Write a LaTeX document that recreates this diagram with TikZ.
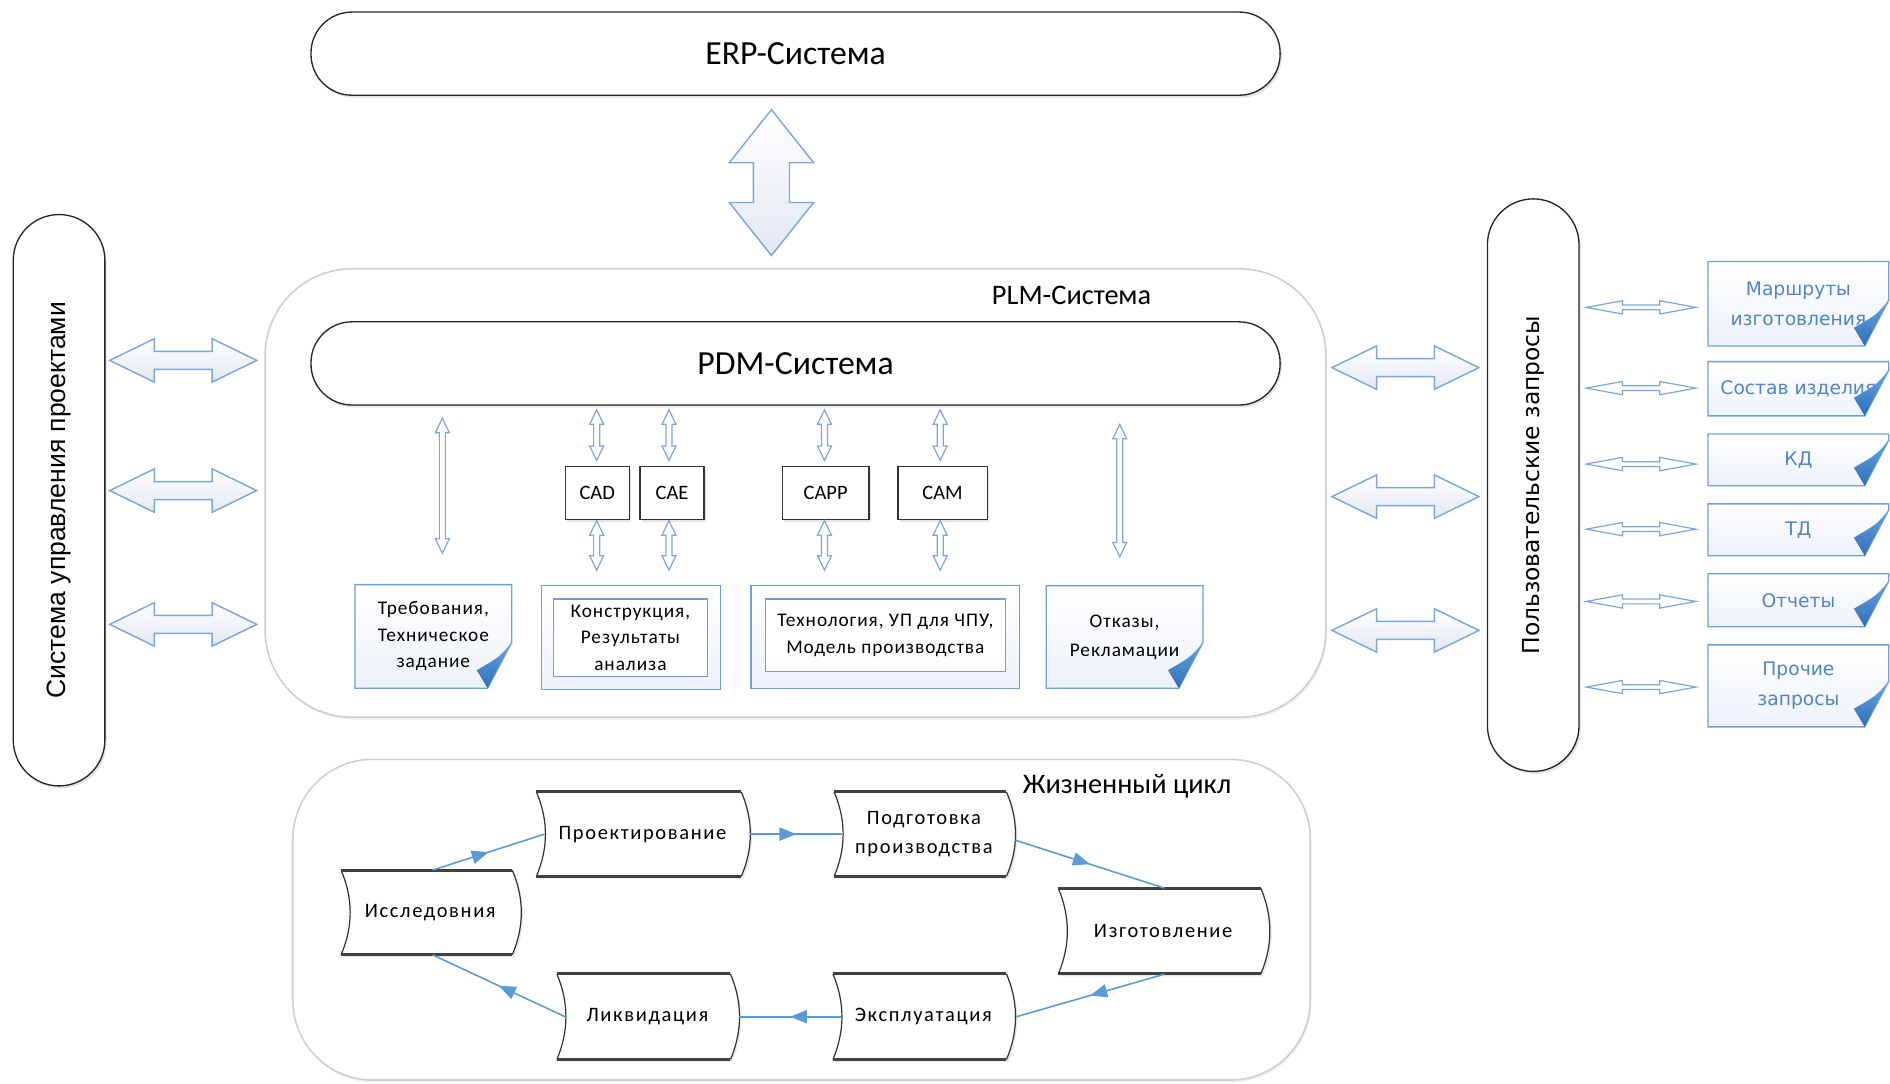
\documentclass[tikz,border=0pt]{standalone}
\usepackage{fontspec}
\setmainfont{Carlito}
\newfontfamily\cspA[LetterSpace=5]{Carlito}
\newfontfamily\cspB[LetterSpace=8]{Carlito}
\newfontfamily\dvs{DejaVu Sans}
\newfontfamily\lbs{Liberation Sans}
\usetikzlibrary{shadows,decorations.markings,arrows.meta,calc}

\definecolor{abl}{HTML}{7EA6D8}
\definecolor{afill}{HTML}{E2E8F3}
\definecolor{lbl}{HTML}{5B9BD5}
\definecolor{dbl}{HTML}{6E9FD8}
\definecolor{dfill}{HTML}{EDF2FA}
\definecolor{curlA}{HTML}{2E6DB8}
\definecolor{curlB}{HTML}{6AA6E4}
\definecolor{dtx}{HTML}{5584C2}
\definecolor{cgr}{HTML}{CFCFCF}

\newcommand\fsz[2]{\fontsize{#1}{#2}\selectfont}

% horizontal double block arrow: style, x1, x2, y, head half, shaft half, head length
\newcommand\dblH[7]{\path[#1] (#2,#4) -- ({#2+#7},{#4-#5}) -- ({#2+#7},{#4-#6}) -- ({#3-#7},{#4-#6}) -- ({#3-#7},{#4-#5}) -- (#3,#4) -- ({#3-#7},{#4+#5}) -- ({#3-#7},{#4+#6}) -- ({#2+#7},{#4+#6}) -- ({#2+#7},{#4+#5}) -- cycle;}
% vertical double block arrow: style, y1, y2, x, head half, shaft half, head length
\newcommand\dblV[7]{\path[#1] (#4,#2) -- ({#4+#5},{#2+#7}) -- ({#4+#6},{#2+#7}) -- ({#4+#6},{#3-#7}) -- ({#4+#5},{#3-#7}) -- (#4,#3) -- ({#4-#5},{#3-#7}) -- ({#4-#6},{#3-#7}) -- ({#4-#6},{#2+#7}) -- ({#4-#5},{#2+#7}) -- cycle;}

% document with page curl: name, x1, y1, x2, y2, node options, text
\newcommand\curldoc[7]{%
  \path[docshape] (#2,#3) -- (#4,#3) -- (#4,{#5-38}) -- ({#4-20},#5) -- (#2,#5) -- cycle;
  \node[docnode,minimum width={#4-#2},minimum height={#5-#3},#6] (#1) at ({(#2+#4)/2},{(#3+#5)/2}) {#7};
  \path[curlfill] (#4,{#5-38}) .. controls ({#4-10},{#5-26}) .. ({#4-29},{#5-15}) -- ({#4-20},#5) .. controls ({#4-12},{#5-16}) .. (#4,{#5-38}) -- cycle;
}

% life-cycle step: name, x1, y1, x2, y2, text
\newcommand\lcnode[6]{%
  \fill[white,drop shadow={opacity=0.18,shadow xshift=1.5pt,shadow yshift=-2pt}] (#2,#3) -- (#4,#3) .. controls ({#4+10},{#3+(#5-#3)/3}) and ({#4+10},{#5-(#5-#3)/3}) .. (#4,#5) -- (#2,#5) .. controls ({#2+10},{#5-(#5-#3)/3}) and ({#2+10},{#3+(#5-#3)/3}) .. (#2,#3) -- cycle;
  \draw[black!80,line width=1pt] (#4,#3) .. controls ({#4+10},{#3+(#5-#3)/3}) and ({#4+10},{#5-(#5-#3)/3}) .. (#4,#5);
  \draw[black!80,line width=1pt] (#2,#5) .. controls ({#2+10},{#5-(#5-#3)/3}) and ({#2+10},{#3+(#5-#3)/3}) .. (#2,#3);
  \draw[black!75,line width=2.4pt] (#2,#3) -- (#4,#3) (#2,#5) -- (#4,#5);
  \node[lctext,minimum width={#4-#2},minimum height={#5-#3}] (#1) at ({(#2+#4)/2+3},{(#3+#5)/2}) {#6};
}

\begin{document}
\begin{tikzpicture}[x=1pt,y=-1pt,
  shadowed/.style={drop shadow={opacity=0.22,shadow xshift=1.5pt,shadow yshift=-2pt}},
  stadium/.style={draw=black!85,line width=1.1pt,fill=white,inner sep=0pt,shadowed},
  container/.style={draw=cgr,line width=1.3pt,fill=white,inner sep=0pt,drop shadow={opacity=0.12,shadow xshift=1pt,shadow yshift=-2pt}},
  blk/.style={draw=abl,line width=1.2pt,top color=white,bottom color=afill},
  thinarr/.style={draw=abl,line width=1pt,fill=white},
  sysbox/.style={draw=black!80,line width=1.1pt,fill=white,inner sep=0pt,shadowed,font=\fsz{17}{20}},
  docshape/.style={draw=dbl,line width=1.1pt,top color=white,bottom color=dfill},
  docnode/.style={inner sep=0pt,align=center},
  curlfill/.style={top color=curlB,bottom color=curlA,draw=none},
  innerbox/.style={draw=dbl,line width=1.1pt,fill=white,inner sep=0pt,align=center},
  outerbox/.style={draw=dbl,line width=1.1pt,top color=white,bottom color=dfill,inner sep=0pt},
  lcarrow/.style={draw=lbl,line width=1.3pt,postaction={decorate},decoration={markings,mark=at position 0.5 with {\arrow{Triangle[length=14pt,width=11pt,color=lbl]}}}},
  lctext/.style={inner sep=0pt,font=\cspB\fsz{17}{24},align=center},
  plmtext/.style={text=black,font=\cspA\fsz{16}{22}},
  rdtext/.style={text=dtx,font=\dvs\fsz{15.5}{25}},
]
\useasboundingbox (0,0) rectangle (1568,899);

% containers
\node[container,minimum width=880,minimum height=372,rounded corners=72] (plm) at (660,409) {};
\node[font=\fsz{23.5}{28}] (plmlbl) at (889,245) {PLM-Система};
\node[container,minimum width=844,minimum height=266,rounded corners=66] (lc) at (665,763) {};
\node[font=\fsz{23.5}{28}] (lclbl) at (935,652) {Жизненный цикл};

% ERP, PDM
\node[stadium,minimum width=804,minimum height=69,rounded corners=34,font=\fsz{28}{32}] (erp) at (660,44.5) {ERP-Система};
\node[stadium,minimum width=804,minimum height=69,rounded corners=34,font=\fsz{28}{32}] (pdm) at (660,301.5) {PDM-Система};

% side systems
\node[stadium,minimum width=76,minimum height=474,rounded corners=38] (spm) at (49,415) {};
\node[rotate=90,font=\lbs\fsz{22}{25}] (spmt) at (spm.center) {Система управления проектами};
\node[stadium,minimum width=76,minimum height=475,rounded corners=38] (usr) at (1272,402.5) {};
\node[rotate=90,font=\dvs\fsz{19.4}{23}] (usrt) at (usr.center) {Пользовательские запросы};

% block arrows
\dblV{blk}{91}{212}{640}{35}{15}{44}
\dblH{blk}{91}{213}{299}{18}{7.5}{37}
\dblH{blk}{91}{213}{407}{18}{7.5}{37}
\dblH{blk}{91}{213}{518}{18}{7.5}{37}
\dblH{blk}{1105}{1227}{305}{18}{7.5}{37}
\dblH{blk}{1105}{1227}{412}{18}{7.5}{37}
\dblH{blk}{1105}{1227}{523}{18}{7.5}{37}

% CAx boxes
\node[sysbox,minimum width=53,minimum height=44] (cad) at (495.5,409) {CAD};
\node[sysbox,minimum width=53,minimum height=44] (cae) at (557.5,409) {CAE};
\node[sysbox,minimum width=72,minimum height=44] (capp) at (685,409) {CAPP};
\node[sysbox,minimum width=74,minimum height=44] (cam) at (782,409) {CAM};

% thin vertical arrows
\dblV{thinarr}{347}{459}{367}{5.8}{2.5}{12}
\dblV{thinarr}{352}{462}{929}{5.8}{2.5}{12}
\dblV{thinarr}{340}{382}{495}{5.8}{2.5}{12}
\dblV{thinarr}{432}{473}{495}{5.8}{2.5}{12}
\dblV{thinarr}{340}{382}{555}{5.8}{2.5}{12}
\dblV{thinarr}{432}{473}{555}{5.8}{2.5}{12}
\dblV{thinarr}{340}{382}{684}{5.8}{2.5}{12}
\dblV{thinarr}{432}{473}{684}{5.8}{2.5}{12}
\dblV{thinarr}{340}{382}{780}{5.8}{2.5}{12}
\dblV{thinarr}{432}{473}{780}{5.8}{2.5}{12}

% PLM documents
\curldoc{treb}{294.5}{485}{424.5}{571}{plmtext}{Требования,\\Техническое\\задание}
\node[outerbox,minimum width=149,minimum height=86] (kon) at (523.5,529) {};
\node[innerbox,minimum width=128,minimum height=64,plmtext] (konin) at (523,529) {Конструкция,\\Результаты\\анализа};
\node[outerbox,minimum width=223,minimum height=85] (tech) at (734.5,528.5) {};
\node[innerbox,minimum width=199,minimum height=60,plmtext] (techin) at (734.5,527) {Технология, УП для ЧПУ,\\Модель производства};
\curldoc{otk}{868}{486}{998}{571}{plmtext,font=\cspA\fsz{16}{24}}{Отказы,\\Рекламации}

% right documents
\curldoc{rd1}{1417}{217}{1567}{287}{rdtext}{Маршруты\\изготовления}
\curldoc{rd2}{1417}{300}{1567}{345}{rdtext}{Состав изделия}
\curldoc{rd3}{1417}{360}{1567}{403}{rdtext}{КД}
\curldoc{rd4}{1417}{418}{1567}{461}{rdtext}{ТД}
\curldoc{rd5}{1417}{476}{1567}{520}{rdtext}{Отчеты}
\curldoc{rd6}{1417}{535}{1567}{603}{rdtext}{Прочие\\запросы}

\dblH{thinarr}{1316}{1407}{255}{5.5}{2}{30}
\dblH{thinarr}{1316}{1407}{322}{5.5}{2}{30}
\dblH{thinarr}{1316}{1407}{385}{5.5}{2}{30}
\dblH{thinarr}{1316}{1407}{439}{5.5}{2}{30}
\dblH{thinarr}{1316}{1407}{499}{5.5}{2}{30}
\dblH{thinarr}{1316}{1407}{570}{5.5}{2}{30}

% life cycle
\lcnode{proj}{445}{657}{615}{727}{Проектирование}
\lcnode{podg}{692}{657}{835}{727}{Подготовка\\производства}
\lcnode{isl}{283}{722}{425}{792}{Исследовния}
\lcnode{izg}{878}{737}{1046}{808}{Изготовление}
\lcnode{likv}{462}{808}{606}{879}{Ликвидация}
\lcnode{expl}{691}{808}{835}{879}{Эксплуатация}

\draw[lcarrow] ([xshift=2pt]isl.north) -- ([xshift=4pt]proj.west);
\draw[lcarrow] ([xshift=4pt]proj.east) -- ([xshift=4pt]podg.west);
\draw[lcarrow] ([xshift=4pt,yshift=-5pt]podg.east) -- ([xshift=1pt]izg.north);
\draw[lcarrow] ([xshift=1pt]izg.south) -- ([xshift=5pt]expl.east);
\draw[lcarrow] ([xshift=4pt]expl.west) -- ([xshift=4pt]likv.east);
\draw[lcarrow] ([xshift=4pt]likv.west) -- ([xshift=2pt]isl.south);
\end{tikzpicture}
\end{document}
